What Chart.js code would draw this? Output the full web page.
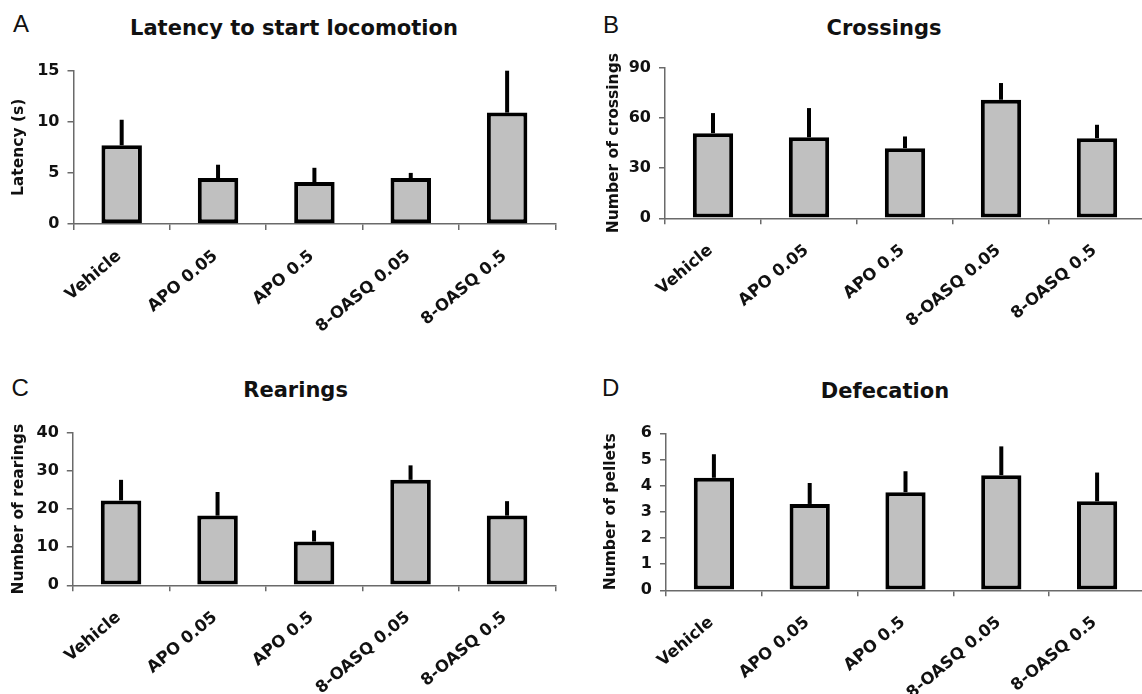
<!DOCTYPE html>
<html>
<head>
<meta charset="utf-8">
<script src="https://cdn.jsdelivr.net/npm/chart.js@4.4.1/dist/chart.umd.min.js"></script>
<style>
  html, body { margin: 0; padding: 0; background: #fff; }
  body { width: 1142px; height: 694px; position: relative; overflow: hidden; }
  canvas { position: absolute; }
  .letter { position: absolute; font: 24px 'Liberation Sans', Arial, sans-serif; line-height: 1; color: #111; }
  .title { position: absolute; width: 400px; text-align: center; font: bold 21px 'DejaVu Sans', sans-serif; line-height: 1; color: #111; white-space: nowrap; }
</style>
</head>
<body>
<div class="letter" style="left:13px;top:12px">A</div>
<div class="letter" style="left:603px;top:13px">B</div>
<div class="letter" style="left:11.5px;top:376px">C</div>
<div class="letter" style="left:602px;top:376px">D</div>

<div class="title" style="left:94px;top:18px">Latency to start locomotion</div>
<div class="title" style="left:684px;top:18px">Crossings</div>
<div class="title" style="left:95.6px;top:379.5px">Rearings</div>
<div class="title" style="left:685px;top:380.5px">Defecation</div>

<canvas id="latency" width="571" height="347" style="left:0;top:0"></canvas>
<canvas id="crossings" width="556" height="347" style="left:590px;top:0"></canvas>
<canvas id="rearings" width="571" height="347" style="left:0;top:347px"></canvas>
<canvas id="pellets" width="556" height="347" style="left:590px;top:347px"></canvas>

<script>
// Treatment groups (mg/kg)
const groups = ['Vehicle', 'APO 0.05', 'APO 0.5', '8-OASQ 0.05', '8-OASQ 0.5'];

// Latency to start locomotion (s): mean and SEM
const latencyMean = [7.7, 4.5, 4.1, 4.5, 10.9];
const latencySem  = [2.5, 1.3, 1.4, 0.5, 4.1];
const latencyTicks = [0, 5, 10, 15];

// Number of crossings
const crossingsMean = [51, 48.5, 42, 71, 48];
const crossingsSem  = [12, 17.5, 7, 10, 8];
const crossingsTicks = [0, 30, 60, 90];

// Number of rearings
const rearingsMean = [22.3, 18.3, 11.5, 27.7, 18.3];
const rearingsSem  = [5.4, 6.2, 2.9, 3.8, 3.8];
const rearingsTicks = [0, 10, 20, 30, 40];

// Number of fecal pellets
const pelletsMean = [4.3, 3.3, 3.75, 4.4, 3.4];
const pelletsSem  = [0.9, 0.8, 0.8, 1.1, 1.1];
const pelletsTicks = [0, 1, 2, 3, 4, 5, 6];

const AXIS_COLOR = '#6a6a6a';
const TEXT_COLOR = '#111';

// Upward-only SEM whiskers drawn from the top of each bar
const errorBarPlugin = {
  id: 'errorBars',
  afterDatasetsDraw(chart) {
    const ds = chart.data.datasets[0];
    const meta = chart.getDatasetMeta(0);
    const yScale = chart.scales.y;
    const ctx = chart.ctx;
    ctx.save();
    ctx.strokeStyle = '#000';
    ctx.lineWidth = 4;
    ctx.lineCap = 'butt';
    meta.data.forEach((bar, i) => {
      const v = ds.data[i];
      const e = ds.errors[i];
      ctx.beginPath();
      ctx.moveTo(bar.x, yScale.getPixelForValue(v));
      ctx.lineTo(bar.x, yScale.getPixelForValue(v + e));
      ctx.stroke();
    });
    ctx.restore();
  }
};

function makePanel(id, geom, yTitle, means, sems, ticks) {
  const { canvasLeft, canvasTop, width, height, areaLeft, areaTop, areaRight, areaBottom, yTitleX } = geom;
  const yAxisWidth = areaLeft - canvasLeft;
  const xAxisHeight = canvasTop + height - areaBottom;
  const yTitleFont = 15.5;

  new Chart(document.getElementById(id), {
    type: 'bar',
    data: {
      labels: groups,
      datasets: [{
        data: means,
        errors: sems,
        backgroundColor: '#c0c0c0',
        borderColor: '#000',
        borderWidth: 4,
        borderSkipped: false,
        categoryPercentage: 1,
        barPercentage: 0.42
      }]
    },
    options: {
      responsive: false,
      animation: false,
      devicePixelRatio: 1,
      layout: {
        padding: {
          left: 0,
          top: areaTop - canvasTop,
          right: canvasLeft + width - areaRight,
          bottom: 0
        }
      },
      plugins: {
        legend: { display: false },
        tooltip: { enabled: false }
      },
      scales: {
        x: {
          offset: true,
          afterFit(scale) { scale.height = xAxisHeight; },
          grid: {
            offset: true,
            drawOnChartArea: false,
            drawTicks: true,
            tickLength: 6,
            color: AXIS_COLOR,
            lineWidth: 1.5
          },
          border: { display: true, color: AXIS_COLOR, width: 1.5 },
          ticks: {
            minRotation: 40,
            maxRotation: 40,
            padding: 16.5,
            labelOffset: -2.5,
            color: TEXT_COLOR,
            font: { family: 'DejaVu Sans', size: 16.5, weight: 'bold' }
          }
        },
        y: {
          min: ticks[0],
          max: ticks[ticks.length - 1],
          afterFit(scale) { scale.width = yAxisWidth; },
          afterBuildTicks(scale) { scale.ticks = ticks.map(v => ({ value: v })); },
          grid: {
            drawOnChartArea: false,
            drawTicks: true,
            tickLength: 6,
            color: AXIS_COLOR,
            lineWidth: 1.5
          },
          border: { display: true, color: AXIS_COLOR, width: 1.5 },
          ticks: {
            padding: 8,
            color: TEXT_COLOR,
            font: { family: 'DejaVu Sans', size: 16, weight: 'bold' }
          },
          title: {
            display: true,
            text: yTitle,
            color: TEXT_COLOR,
            font: { family: 'DejaVu Sans', size: yTitleFont, weight: 'bold' },
            padding: { top: yTitleX - canvasLeft - yTitleFont * 0.6, bottom: 0 }
          }
        }
      }
    },
    plugins: [errorBarPlugin]
  });
}

makePanel('latency',
  { canvasLeft: 0, canvasTop: 0, width: 571, height: 347,
    areaLeft: 73.5, areaTop: 70.7, areaRight: 555.3, areaBottom: 224, yTitleX: 18.8 },
  'Latency (s)', latencyMean, latencySem, latencyTicks);

makePanel('crossings',
  { canvasLeft: 590, canvasTop: 0, width: 556, height: 347,
    areaLeft: 665, areaTop: 68, areaRight: 1145, areaBottom: 218.3, yTitleX: 614 },
  'Number of crossings', crossingsMean, crossingsSem, crossingsTicks);

makePanel('rearings',
  { canvasLeft: 0, canvasTop: 347, width: 571, height: 347,
    areaLeft: 72.8, areaTop: 433, areaRight: 555.3, areaBottom: 585.3, yTitleX: 19 },
  'Number of rearings', rearingsMean, rearingsSem, rearingsTicks);

makePanel('pellets',
  { canvasLeft: 590, canvasTop: 347, width: 556, height: 347,
    areaLeft: 666, areaTop: 433.3, areaRight: 1145, areaBottom: 590.3, yTitleX: 610.5 },
  'Number of pellets', pelletsMean, pelletsSem, pelletsTicks);
</script>
</body>
</html>
